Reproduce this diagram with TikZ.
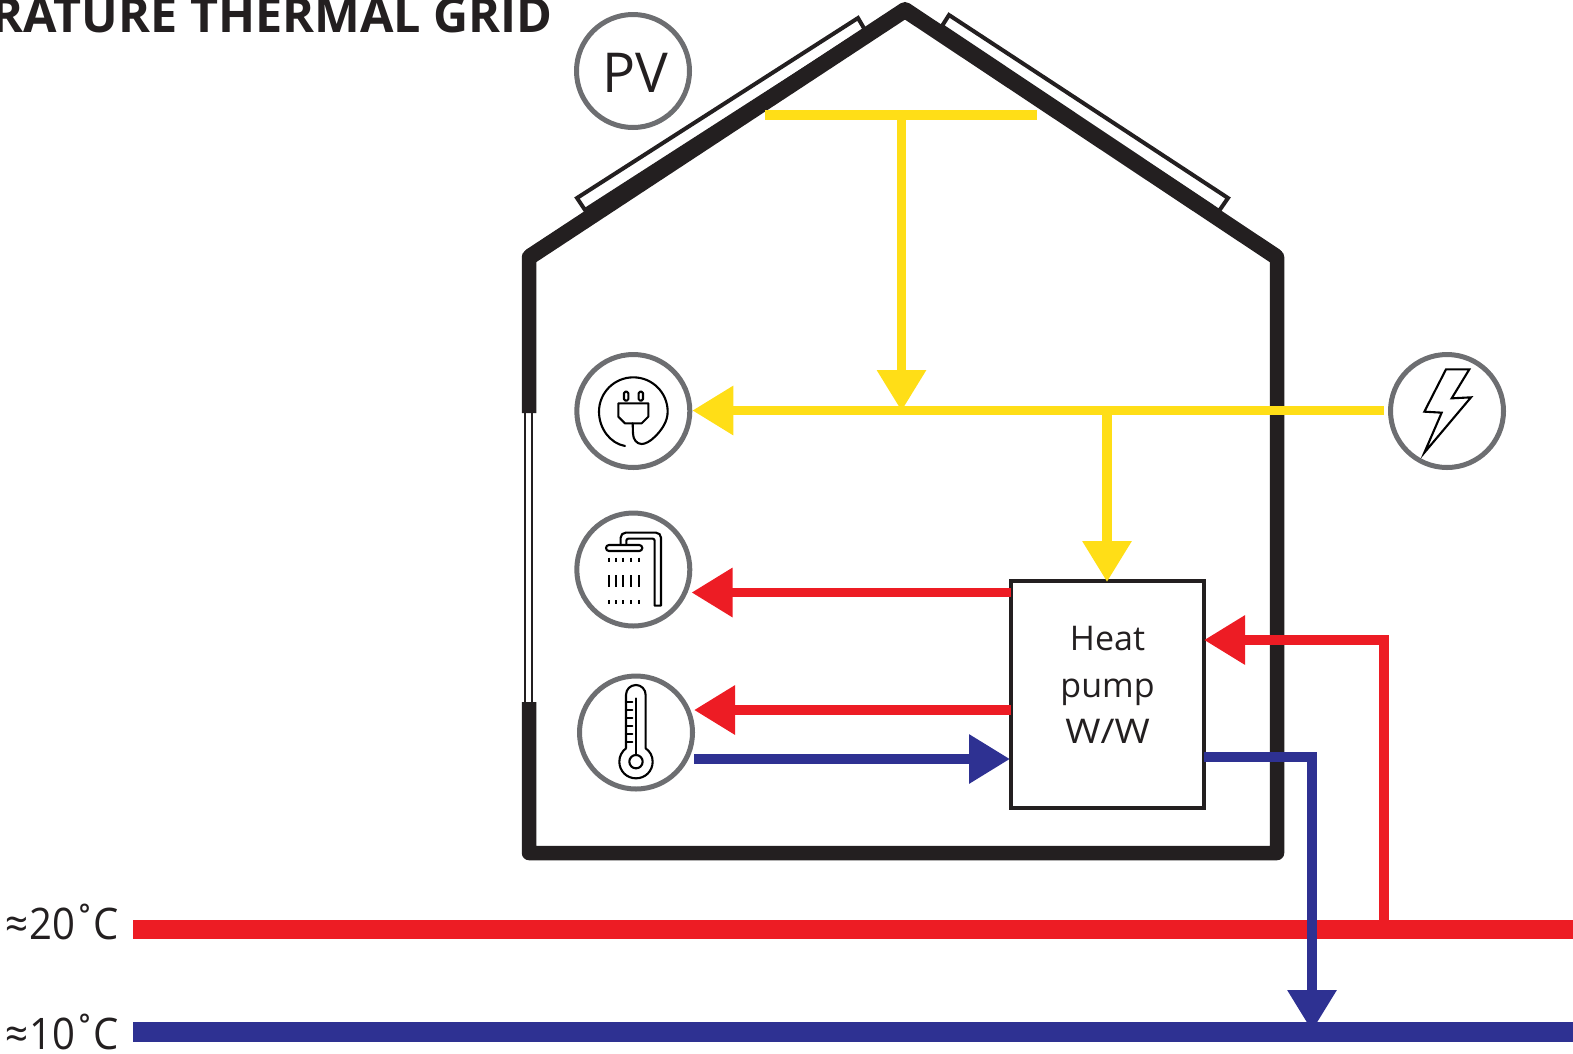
\documentclass[tikz,border=0pt]{standalone}
\usepackage{fontspec}
\setmainfont{Open Sans}
\newfontfamily\narrowfont[FakeStretch=0.92]{Open Sans}
\newfontfamily\wideWfont[FakeStretch=1.12]{Open Sans}
\usetikzlibrary{arrows.meta}
\definecolor{kred}{HTML}{ED1C24}
\definecolor{kblue}{HTML}{2E3192}
\definecolor{kyel}{HTML}{FFDE17}
\definecolor{kblack}{HTML}{231F20}
\definecolor{kgray}{HTML}{6D6E71}
\tikzset{
  x=1pt,y=-1pt,
  flow/.style={line width=9.5pt,-{Triangle[length=41pt,width=47pt]}},
  plainflow/.style={line width=9.5pt},
  grid/.style={line width=19.3pt},
  ring/.style={circle,draw=kgray,line width=5pt,minimum size=113pt,inner sep=0pt,fill=white},
  icon/.style={draw=black,line width=2.1pt,line join=round,line cap=round},
  label/.style={inner sep=0pt,text=kblack,font=\narrowfont\fontsize{43.5}{43.5}\selectfont,anchor=base east},
}
\begin{document}
\begin{tikzpicture}
\useasboundingbox (0,0) rectangle (1573,1053);
\clip (0,0) rectangle (1573,1053);
% panels
\draw[kblack,line width=4pt,fill=white,line join=miter] (577,198) -- (858,18) -- (865,30) -- (585,210) -- cycle;
\draw[kblack,line width=4pt,fill=white,line join=miter] (949,15) -- (1228,198) -- (1219,211) -- (942,26) -- cycle;
% window
\draw[kblack,line width=2pt] (524.5,413) -- (524.5,702) (531.5,413) -- (531.5,702);
% house
\draw[kblack,line width=14.5pt,line join=round] (529,413) -- (529,257) -- (905,10) -- (1277,257) -- (1277,853) -- (529,853) -- (529,702);
\draw[kblack,line width=16pt,line join=round,line cap=round] (531,256) -- (905,10) -- (1275,256);
% grid pipes
\coordinate (r0) at (133,929.7); \coordinate (r1) at (1573,929.7);
\coordinate (b0) at (133,1032); \coordinate (b1) at (1573,1032);
\draw[kred,grid] (r0) -- (r1);
\draw[kblue,grid] (b0) -- (b1);
% nodes
\node[ring] (pv) at (633,71) {};
\node[inner sep=0pt,text=kblack,font=\fontsize{55}{55}\selectfont] (pvt) at (635.5,72.5) {PV};
\node[ring] (plug) at (633.3,411) {};
\node[ring] (shower) at (633.3,569.5) {};
\node[ring] (thermo) at (636,732.5) {};
\node[ring] (bolt) at (1447,411) {};
\node[draw=kblack,line width=4pt,fill=white,minimum width=193pt,minimum height=227pt,inner sep=0pt] (hp) at (1107.5,694.5) {};
\node[inner sep=0pt,align=center,text=kblack,font=\fontsize{34}{46.5}\selectfont] (hpt) at (1107.5,685) {Heat\\pump\\{\wideWfont W/W}};
% yellow
\coordinate (yl) at (765,115); \coordinate (yr) at (1037,115);
\coordinate (yt) at (901.5,115); \coordinate (yb) at (901.5,411);
\coordinate (ys) at (1384,410.5); \coordinate (yj) at (1107,410.5); \coordinate (ytip) at (1107,582);
\draw[kyel,plainflow] (yl) -- (yr);
\draw[kyel,flow] (yt) -- (yb);
\draw[kyel,flow] (ys) -- (plug.east |- ys);
\draw[kyel,flow] (yj) -- (ytip);
% red
\coordinate (ra) at (1384,930); \coordinate (rb) at (1384,640);
\coordinate (r1a) at (1011,592.5); \coordinate (r1b) at (691.5,592.5);
\coordinate (r2a) at (1011,710); \coordinate (r2b) at (694,710);
\coordinate (r3b) at (1204,640);
\draw[kred,flow] (r1a) -- (r1b);
\draw[kred,flow] (r2a) -- (r2b);
\draw[kred,flow,line join=miter] (ra) -- (rb) -- (r3b);
% blue
\coordinate (bin) at (694,759); \coordinate (bint) at (1010,759);
\coordinate (bs) at (1204,757);
\coordinate (bc) at (1312,757);
\coordinate (bt) at (1312,1031);
\draw[kblue,flow] (bin) -- (bint);
\draw[kblue,flow,line join=miter] (bs) -- (bc) -- (bt);
% labels
\node[label] (t20) at (119,939.5) {≈\kern1pt 20\kern-2pt˚\kern-3ptC};
\node[label] (t10) at (119,1049) {≈\kern1pt 10\kern-2pt˚\kern-3ptC};
\node[inner sep=0pt,anchor=base east,text=kblack,font=\bfseries\fontsize{48.5}{48.5}\selectfont] (title) at (553,32) {RATURE THERMAL GRID};
% plug icon
\begin{scope}[shift={(560,340)},x=.3333pt,y=-.3333pt]
\draw[icon] (195,318) .. controls (150,310) and (117,265) .. (117,215) .. controls (117,158) and (163,112) .. (220,112) .. controls (277,112) and (323,158) .. (323,215) .. controls (323,245) and (305,270) .. (285,290) .. controls (270,305) and (255,312) .. (245,312) .. controls (230,312) and (219,298) .. (219,280) -- (218,250);
\draw[icon] (175,190) -- (265,190) -- (265,230) -- (245,250) -- (195,250) -- (175,230) -- cycle;
\draw[icon,rounded corners=1.5pt] (192,182) -- (192,155) -- (205,155) -- (205,182) -- cycle;
\draw[icon,rounded corners=1.5pt] (236,182) -- (236,155) -- (249,155) -- (249,182) -- cycle;
\end{scope}
% shower icon
\begin{scope}[shift={(560,500)},x=.3333pt,y=-.3333pt]
\draw[icon] [rounded corners=5pt] (182,134) -- (182,98) -- (303,98) [sharp corners] -- (303,317) -- (284,317) [rounded corners=2pt] -- (284,116) -- (199,116) -- (199,134);
\draw[icon,rounded corners=3pt] (138,135) -- (247,135) -- (247,153) -- (138,153) -- cycle;
\foreach \xx in {147,168,190,212,237}{
  \draw[black,line width=2pt] (\xx,173) -- (\xx,187) (\xx,225) -- (\xx,260) (\xx,300) -- (\xx,313);
}
\end{scope}
% thermometer icon
\begin{scope}[shift={(560,660)},x=.3333pt,y=-.3333pt]
\draw[icon] (198,265) -- (198,105) .. controls (198,88) and (211,75) .. (228,75) .. controls (244,75) and (257,88) .. (257,105) -- (257,265) .. controls (270,274) and (278,288) .. (278,305) .. controls (278,333) and (256,355) .. (228,355) .. controls (200,355) and (178,333) .. (178,305) .. controls (178,288) and (186,274) .. (198,265);
\draw[icon] (228,305) circle[radius=6.67pt];
\draw[icon] (228,115) -- (228,285);
\foreach \yy in {125,150,175,198,222,245}{\draw[icon] (198,\yy) -- (217,\yy);}
\end{scope}
% bolt icon
\begin{scope}[shift={(1370,340)},x=.3333pt,y=-.3333pt]
\draw[icon,line join=miter] (228,88) -- (298,88) -- (245,175) -- (303,172) -- (163,338) -- (215,218) -- (163,215) -- cycle;
\end{scope}
\end{tikzpicture}
\end{document}
